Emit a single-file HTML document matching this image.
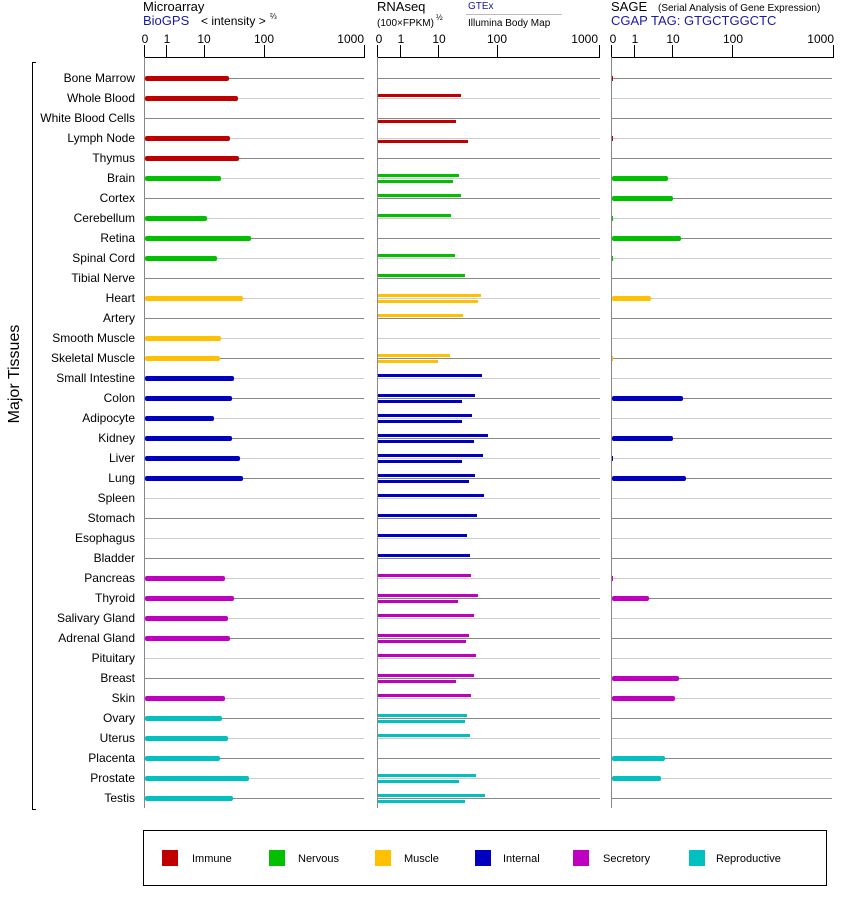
<!DOCTYPE html>
<html><head><meta charset="utf-8"><style>
html,body{margin:0;padding:0;background:#fff}
svg{display:block;font-family:"Liberation Sans",sans-serif}
.l text{font-size:12px;text-anchor:end}
.d path{stroke:#888}.e path{stroke:#ccc}
.I{fill:#c00000}.N{fill:#00c000}.M{fill:#ffc000}.T{fill:#0000c0}.S{fill:#c000c0}.R{fill:#00c0c0}
</style></head><body>
<svg width="842" height="900" viewBox="0 0 842 900" xmlns="http://www.w3.org/2000/svg">
<text x="143" y="11" font-size="13">Microarray</text>
<text x="143" y="25" font-size="13" fill="#1a1aa6">BioGPS</text>
<text x="201" y="25" font-size="12">&lt; intensity &gt;</text>
<text x="270" y="19" font-size="8">⅔</text>
<text x="377" y="11" font-size="13">RNAseq</text>
<text x="377" y="26" font-size="10">(100×FPKM)</text>
<text x="436" y="20" font-size="8">½</text>
<text x="468" y="9" font-size="10" fill="#1a1aa6">GTEx</text>
<line x1="466" y1="14.5" x2="562" y2="14.5" stroke="#bbb"/>
<text x="468" y="26" font-size="10">Illumina Body Map</text>
<text x="611" y="11" font-size="13">SAGE</text>
<text x="658" y="11" font-size="10">(Serial Analysis of Gene Expression)</text>
<text x="611" y="25" font-size="13" fill="#1a1aa6">CGAP TAG: GTGCTGGCTC</text>
<g font-size="12" text-anchor="middle">
<text x="145" y="43">0</text><text x="167" y="43">1</text><text x="204" y="43">10</text><text x="264" y="43">100</text><text x="364" y="43" text-anchor="end">1000</text>
<text x="379" y="43">0</text><text x="401" y="43">1</text><text x="439" y="43">10</text><text x="497" y="43">100</text><text x="598" y="43" text-anchor="end">1000</text>
<text x="613" y="43">0</text><text x="635" y="43">1</text><text x="673" y="43">10</text><text x="733" y="43">100</text><text x="834" y="43" text-anchor="end">1000</text>
</g>
<g stroke="#000" fill="none">
<path d="M144.5 45V57.5H364.5V45M166.5 45V57M204.5 45V57M264.5 45V57"/>
<path d="M377.5 45V57.5H599.5V45M400.5 45V57M438.5 45V57M497.5 45V57"/>
<path d="M611.5 45V57.5H833.5V45M634.5 45V57M672.5 45V57M732.5 45V57"/>
<path d="M36 62.5H32.5V809.5H36"/>
</g>
<g stroke="#888"><line x1="144.5" y1="57" x2="144.5" y2="808"/><line x1="377.5" y1="57" x2="377.5" y2="808"/><line x1="611.5" y1="57" x2="611.5" y2="808"/></g>
<text transform="translate(19,374) rotate(-90)" font-size="16" text-anchor="middle">Major Tissues</text>

<g class="l">
<g class="d" transform="translate(0,78)"><text x="135" y="4">Bone Marrow</text><path d="M145 .5H364M378 .5H600M612 .5H832"/><rect class="I" x="145" y="-2" width="84" height="5" rx="2"/><rect class="I" x="612" y="-2" width="1" height="5"/></g>
<g class="e" transform="translate(0,98)"><text x="135" y="4">Whole Blood</text><path d="M145 .5H364M378 .5H600M612 .5H832"/><rect class="I" x="145" y="-2" width="93" height="5" rx="2"/><rect class="I" x="378" y="-4" width="83" height="3"/></g>
<g class="d" transform="translate(0,118)"><text x="135" y="4">White Blood Cells</text><path d="M145 .5H364M378 .5H600M612 .5H832"/><rect class="I" x="378" y="2" width="78" height="3"/></g>
<g class="e" transform="translate(0,138)"><text x="135" y="4">Lymph Node</text><path d="M145 .5H364M378 .5H600M612 .5H832"/><rect class="I" x="145" y="-2" width="85" height="5" rx="2"/><rect class="I" x="378" y="2" width="90" height="3"/><rect class="I" x="612" y="-2" width="1" height="5"/></g>
<g class="d" transform="translate(0,158)"><text x="135" y="4">Thymus</text><path d="M145 .5H364M378 .5H600M612 .5H832"/><rect class="I" x="145" y="-2" width="94" height="5" rx="2"/></g>
<g class="e" transform="translate(0,178)"><text x="135" y="4">Brain</text><path d="M145 .5H364M378 .5H600M612 .5H832"/><rect class="N" x="145" y="-2" width="76" height="5" rx="2"/><rect class="N" x="378" y="-4" width="81" height="3"/><rect class="N" x="378" y="2" width="75" height="3"/><rect class="N" x="612" y="-2" width="56" height="5" rx="2"/></g>
<g class="d" transform="translate(0,198)"><text x="135" y="4">Cortex</text><path d="M145 .5H364M378 .5H600M612 .5H832"/><rect class="N" x="378" y="-4" width="83" height="3"/><rect class="N" x="612" y="-2" width="61" height="5" rx="2"/></g>
<g class="e" transform="translate(0,218)"><text x="135" y="4">Cerebellum</text><path d="M145 .5H364M378 .5H600M612 .5H832"/><rect class="N" x="145" y="-2" width="62" height="5" rx="2"/><rect class="N" x="378" y="-4" width="73" height="3"/><rect class="N" x="612" y="-2" width="1" height="5"/></g>
<g class="d" transform="translate(0,238)"><text x="135" y="4">Retina</text><path d="M145 .5H364M378 .5H600M612 .5H832"/><rect class="N" x="145" y="-2" width="106" height="5" rx="2"/><rect class="N" x="612" y="-2" width="69" height="5" rx="2"/></g>
<g class="e" transform="translate(0,258)"><text x="135" y="4">Spinal Cord</text><path d="M145 .5H364M378 .5H600M612 .5H832"/><rect class="N" x="145" y="-2" width="72" height="5" rx="2"/><rect class="N" x="378" y="-4" width="77" height="3"/><rect class="N" x="612" y="-2" width="1" height="5"/></g>
<g class="d" transform="translate(0,278)"><text x="135" y="4">Tibial Nerve</text><path d="M145 .5H364M378 .5H600M612 .5H832"/><rect class="N" x="378" y="-4" width="87" height="3"/></g>
<g class="e" transform="translate(0,298)"><text x="135" y="4">Heart</text><path d="M145 .5H364M378 .5H600M612 .5H832"/><rect class="M" x="145" y="-2" width="98" height="5" rx="2"/><rect class="M" x="378" y="-4" width="103" height="3"/><rect class="M" x="378" y="2" width="100" height="3"/><rect class="M" x="612" y="-2" width="39" height="5" rx="2"/></g>
<g class="d" transform="translate(0,318)"><text x="135" y="4">Artery</text><path d="M145 .5H364M378 .5H600M612 .5H832"/><rect class="M" x="378" y="-4" width="85" height="3"/></g>
<g class="e" transform="translate(0,338)"><text x="135" y="4">Smooth Muscle</text><path d="M145 .5H364M378 .5H600M612 .5H832"/><rect class="M" x="145" y="-2" width="76" height="5" rx="2"/></g>
<g class="d" transform="translate(0,358)"><text x="135" y="4">Skeletal Muscle</text><path d="M145 .5H364M378 .5H600M612 .5H832"/><rect class="M" x="145" y="-2" width="75" height="5" rx="2"/><rect class="M" x="378" y="-4" width="72" height="3"/><rect class="M" x="378" y="2" width="60" height="3"/><rect class="M" x="612" y="-2" width="1" height="5"/></g>
<g class="e" transform="translate(0,378)"><text x="135" y="4">Small Intestine</text><path d="M145 .5H364M378 .5H600M612 .5H832"/><rect class="T" x="145" y="-2" width="89" height="5" rx="2"/><rect class="T" x="378" y="-4" width="104" height="3"/></g>
<g class="d" transform="translate(0,398)"><text x="135" y="4">Colon</text><path d="M145 .5H364M378 .5H600M612 .5H832"/><rect class="T" x="145" y="-2" width="87" height="5" rx="2"/><rect class="T" x="378" y="-4" width="97" height="3"/><rect class="T" x="378" y="2" width="84" height="3"/><rect class="T" x="612" y="-2" width="71" height="5" rx="2"/></g>
<g class="e" transform="translate(0,418)"><text x="135" y="4">Adipocyte</text><path d="M145 .5H364M378 .5H600M612 .5H832"/><rect class="T" x="145" y="-2" width="69" height="5" rx="2"/><rect class="T" x="378" y="-4" width="94" height="3"/><rect class="T" x="378" y="2" width="84" height="3"/></g>
<g class="d" transform="translate(0,438)"><text x="135" y="4">Kidney</text><path d="M145 .5H364M378 .5H600M612 .5H832"/><rect class="T" x="145" y="-2" width="87" height="5" rx="2"/><rect class="T" x="378" y="-4" width="110" height="3"/><rect class="T" x="378" y="2" width="96" height="3"/><rect class="T" x="612" y="-2" width="61" height="5" rx="2"/></g>
<g class="e" transform="translate(0,458)"><text x="135" y="4">Liver</text><path d="M145 .5H364M378 .5H600M612 .5H832"/><rect class="T" x="145" y="-2" width="95" height="5" rx="2"/><rect class="T" x="378" y="-4" width="105" height="3"/><rect class="T" x="378" y="2" width="84" height="3"/><rect class="T" x="612" y="-2" width="1" height="5"/></g>
<g class="d" transform="translate(0,478)"><text x="135" y="4">Lung</text><path d="M145 .5H364M378 .5H600M612 .5H832"/><rect class="T" x="145" y="-2" width="98" height="5" rx="2"/><rect class="T" x="378" y="-4" width="97" height="3"/><rect class="T" x="378" y="2" width="91" height="3"/><rect class="T" x="612" y="-2" width="74" height="5" rx="2"/></g>
<g class="e" transform="translate(0,498)"><text x="135" y="4">Spleen</text><path d="M145 .5H364M378 .5H600M612 .5H832"/><rect class="T" x="378" y="-4" width="106" height="3"/></g>
<g class="d" transform="translate(0,518)"><text x="135" y="4">Stomach</text><path d="M145 .5H364M378 .5H600M612 .5H832"/><rect class="T" x="378" y="-4" width="99" height="3"/></g>
<g class="e" transform="translate(0,538)"><text x="135" y="4">Esophagus</text><path d="M145 .5H364M378 .5H600M612 .5H832"/><rect class="T" x="378" y="-4" width="89" height="3"/></g>
<g class="d" transform="translate(0,558)"><text x="135" y="4">Bladder</text><path d="M145 .5H364M378 .5H600M612 .5H832"/><rect class="T" x="378" y="-4" width="92" height="3"/></g>
<g class="e" transform="translate(0,578)"><text x="135" y="4">Pancreas</text><path d="M145 .5H364M378 .5H600M612 .5H832"/><rect class="S" x="145" y="-2" width="80" height="5" rx="2"/><rect class="S" x="378" y="-4" width="93" height="3"/><rect class="S" x="612" y="-2" width="1" height="5"/></g>
<g class="d" transform="translate(0,598)"><text x="135" y="4">Thyroid</text><path d="M145 .5H364M378 .5H600M612 .5H832"/><rect class="S" x="145" y="-2" width="89" height="5" rx="2"/><rect class="S" x="378" y="-4" width="100" height="3"/><rect class="S" x="378" y="2" width="80" height="3"/><rect class="S" x="612" y="-2" width="37" height="5" rx="2"/></g>
<g class="e" transform="translate(0,618)"><text x="135" y="4">Salivary Gland</text><path d="M145 .5H364M378 .5H600M612 .5H832"/><rect class="S" x="145" y="-2" width="83" height="5" rx="2"/><rect class="S" x="378" y="-4" width="96" height="3"/></g>
<g class="d" transform="translate(0,638)"><text x="135" y="4">Adrenal Gland</text><path d="M145 .5H364M378 .5H600M612 .5H832"/><rect class="S" x="145" y="-2" width="85" height="5" rx="2"/><rect class="S" x="378" y="-4" width="91" height="3"/><rect class="S" x="378" y="2" width="88" height="3"/></g>
<g class="e" transform="translate(0,658)"><text x="135" y="4">Pituitary</text><path d="M145 .5H364M378 .5H600M612 .5H832"/><rect class="S" x="378" y="-4" width="98" height="3"/></g>
<g class="d" transform="translate(0,678)"><text x="135" y="4">Breast</text><path d="M145 .5H364M378 .5H600M612 .5H832"/><rect class="S" x="378" y="-4" width="96" height="3"/><rect class="S" x="378" y="2" width="78" height="3"/><rect class="S" x="612" y="-2" width="67" height="5" rx="2"/></g>
<g class="e" transform="translate(0,698)"><text x="135" y="4">Skin</text><path d="M145 .5H364M378 .5H600M612 .5H832"/><rect class="S" x="145" y="-2" width="80" height="5" rx="2"/><rect class="S" x="378" y="-4" width="93" height="3"/><rect class="S" x="612" y="-2" width="63" height="5" rx="2"/></g>
<g class="d" transform="translate(0,718)"><text x="135" y="4">Ovary</text><path d="M145 .5H364M378 .5H600M612 .5H832"/><rect class="R" x="145" y="-2" width="77" height="5" rx="2"/><rect class="R" x="378" y="-4" width="89" height="3"/><rect class="R" x="378" y="2" width="87" height="3"/></g>
<g class="e" transform="translate(0,738)"><text x="135" y="4">Uterus</text><path d="M145 .5H364M378 .5H600M612 .5H832"/><rect class="R" x="145" y="-2" width="83" height="5" rx="2"/><rect class="R" x="378" y="-4" width="92" height="3"/></g>
<g class="d" transform="translate(0,758)"><text x="135" y="4">Placenta</text><path d="M145 .5H364M378 .5H600M612 .5H832"/><rect class="R" x="145" y="-2" width="75" height="5" rx="2"/><rect class="R" x="612" y="-2" width="53" height="5" rx="2"/></g>
<g class="e" transform="translate(0,778)"><text x="135" y="4">Prostate</text><path d="M145 .5H364M378 .5H600M612 .5H832"/><rect class="R" x="145" y="-2" width="104" height="5" rx="2"/><rect class="R" x="378" y="-4" width="98" height="3"/><rect class="R" x="378" y="2" width="81" height="3"/><rect class="R" x="612" y="-2" width="49" height="5" rx="2"/></g>
<g class="d" transform="translate(0,798)"><text x="135" y="4">Testis</text><path d="M145 .5H364M378 .5H600M612 .5H832"/><rect class="R" x="145" y="-2" width="88" height="5" rx="2"/><rect class="R" x="378" y="-4" width="107" height="3"/><rect class="R" x="378" y="2" width="87" height="3"/></g>
</g>

<rect x="143.5" y="830.5" width="683" height="55" fill="none" stroke="#000"/>
<rect x="162" y="850" width="16" height="16" class="I"/><text x="192" y="862" font-size="11">Immune</text>
<rect x="269" y="850" width="16" height="16" class="N"/><text x="298" y="862" font-size="11">Nervous</text>
<rect x="375" y="850" width="16" height="16" class="M"/><text x="404" y="862" font-size="11">Muscle</text>
<rect x="475" y="850" width="16" height="16" class="T"/><text x="503" y="862" font-size="11">Internal</text>
<rect x="573" y="850" width="16" height="16" class="S"/><text x="603" y="862" font-size="11">Secretory</text>
<rect x="689" y="850" width="16" height="16" class="R"/><text x="716" y="862" font-size="11">Reproductive</text>
</svg>
</body></html>
